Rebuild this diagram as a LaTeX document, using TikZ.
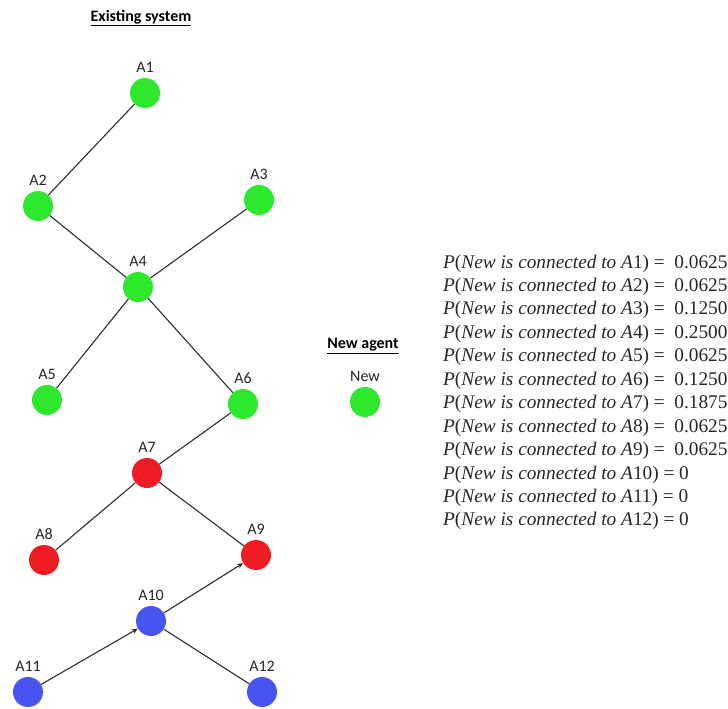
\documentclass[tikz,border=0pt]{standalone}
\usepackage{fontspec}
\setmainfont{Carlito}
\newfontfamily\eqfont{Liberation Serif}
\usetikzlibrary{arrows.meta}
\definecolor{agreen}{RGB}{45,232,45}
\definecolor{ared}{RGB}{240,28,36}
\definecolor{ablue}{RGB}{72,84,240}
\definecolor{edgec}{RGB}{45,45,45}
\tikzset{
  agent/.style={circle, minimum size=30pt, inner sep=0pt, draw=none},
  gagent/.style={agent, fill=agreen},
  ragent/.style={agent, fill=ared},
  bagent/.style={agent, fill=ablue},
  lbl/.style={font=\fontsize{16}{19}\selectfont, text=black!85, inner sep=0pt},
  edge/.style={draw=edgec, line width=1.1pt},
  arr/.style={edge, -{Stealth[length=6pt,width=5pt]}},
  title/.style={font=\fontsize{16}{19}\selectfont\bfseries, inner sep=0pt},
  eq/.style={font=\eqfont\fontsize{19.3}{23}\selectfont, anchor=base west, inner sep=0pt, text=black!85}
}
\begin{document}
\begin{tikzpicture}[x=1pt,y=-1pt]
\useasboundingbox (0,0) rectangle (728,709);
\node[title] (t1) at (141,18) {\underline{Existing system}};
\node[title] (t2) at (363,346) {\underline{New agent}};

\node[gagent, label={[lbl,label distance=5pt]above:A1}] (A1) at (145,93) {};
\node[gagent, label={[lbl,label distance=5pt]above:A2}] (A2) at (38,206) {};
\node[gagent, label={[lbl,label distance=5pt]above:A3}] (A3) at (259,200) {};
\node[gagent, label={[lbl,label distance=5pt]above:A4}] (A4) at (138,287) {};
\node[gagent, label={[lbl,label distance=5pt]above:A5}] (A5) at (47,400) {};
\node[gagent, label={[lbl,label distance=5pt]above:A6}] (A6) at (243,404) {};
\node[ragent, label={[lbl,label distance=5pt]above:A7}] (A7) at (147,473) {};
\node[ragent, label={[lbl,label distance=5pt]above:A8}] (A8) at (44,560) {};
\node[ragent, label={[lbl,label distance=5pt]above:A9}] (A9) at (256,555) {};
\node[bagent, label={[lbl,label distance=5pt]above:A10}] (A10) at (151,621) {};
\node[bagent, label={[lbl,label distance=5pt]above:A11}] (A11) at (28,692) {};
\node[bagent, label={[lbl,label distance=5pt]above:A12}] (A12) at (262,692) {};
\node[gagent, label={[lbl,label distance=5pt]above:New}] (New) at (365,402) {};

\draw[edge] (A1) -- (A2);
\draw[edge] (A2) -- (A4);
\draw[edge] (A3) -- (A4);
\draw[edge] (A4) -- (A5);
\draw[edge] (A4) -- (A6);
\draw[edge] (A6) -- (A7);
\draw[edge] (A7) -- (A8);
\draw[edge] (A7) -- (A9);
\draw[arr] (A10) -- (A9);
\draw[arr] (A11) -- (A10);
\draw[edge] (A10) -- (A12);

\foreach \i/\v [count=\k from 0] in {1/{=\ \ 0.0625},2/{=\ \ 0.0625},3/{=\ \ 0.1250},4/{=\ \ 0.2500},5/{=\ \ 0.0625},6/{=\ \ 0.1250},7/{=\ \ 0.1875},8/{=\ \ 0.0625},9/{=\ \ 0.0625},10/{= 0},11/{= 0},12/{= 0}}
  \node[eq] (eq\i) at (443,{268+23.45*\k}) {\textit{P}(\textit{New is connected to A}\i) \v};
\end{tikzpicture}
\end{document}
